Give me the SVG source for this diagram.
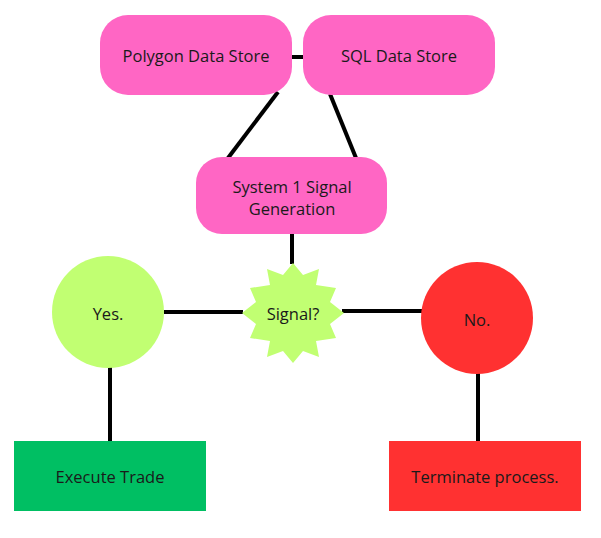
<svg xmlns="http://www.w3.org/2000/svg" width="601" height="538" viewBox="0 0 601 538">
<style>
.pink{fill:#FF66C4}
.lime{fill:#C1FF72}
.red{fill:#FF3131}
.green{fill:#00BF63}
.lbl{font-family:"Open Sans","Noto Sans",sans-serif;font-size:16.5px;fill:#1a1a1a;text-anchor:middle;dominant-baseline:central}
.edge{stroke:#000;stroke-width:4;fill:none}
</style>
<rect width="601" height="538" fill="#fff"/>
<g id="connectors">
<line class="edge" x1="292" y1="57" x2="303" y2="57"/>
<line class="edge" x1="278" y1="92" x2="228" y2="158"/>
<line class="edge" x1="330" y1="94" x2="356" y2="158"/>
<line class="edge" x1="292" y1="234" x2="292" y2="264"/>
<line class="edge" x1="164" y1="312" x2="243" y2="312"/>
<line class="edge" x1="342" y1="311" x2="422" y2="311"/>
<line class="edge" x1="110" y1="367" x2="110" y2="441"/>
<line class="edge" x1="478" y1="373" x2="478" y2="441"/>
</g>
<g id="polygon">
<rect class="pink" x="100" y="15" width="192" height="80" rx="28"/>
<text class="lbl" x="196" y="55">Polygon Data Store</text>
</g>
<g id="sql">
<rect class="pink" x="303" y="15" width="192" height="80" rx="28"/>
<text class="lbl" x="399" y="55">SQL Data Store</text>
</g>
<g id="system">
<rect class="pink" x="196" y="157" width="191" height="77" rx="26"/>
<text class="lbl" x="292" y="186">System 1 Signal</text>
<text class="lbl" x="292" y="208">Generation</text>
</g>
<g id="signal">
<polygon class="lime" points="293,263 303,275 319,269 316,285 336,288 330,302 344,313 330,324 336,338 316,341 319,357 303,351 293,363 283,351 267,357 270,341 250,338 256,324 242,313 256,302 250,288 270,285 267,269 283,275"/>
<text class="lbl" x="293" y="313">Signal?</text>
</g>
<g id="yes">
<ellipse class="lime" cx="108" cy="312" rx="56" ry="56"/>
<text class="lbl" x="108" y="313">Yes.</text>
</g>
<g id="no">
<ellipse class="red" cx="477" cy="318" rx="56" ry="56"/>
<text class="lbl" x="477" y="319">No.</text>
</g>
<g id="execute">
<rect class="green" x="14" y="441" width="192" height="70"/>
<text class="lbl" x="110" y="476">Execute Trade</text>
</g>
<g id="terminate">
<rect class="red" x="389" y="441" width="192" height="70"/>
<text class="lbl" x="485" y="476">Terminate process.</text>
</g>
</svg>
